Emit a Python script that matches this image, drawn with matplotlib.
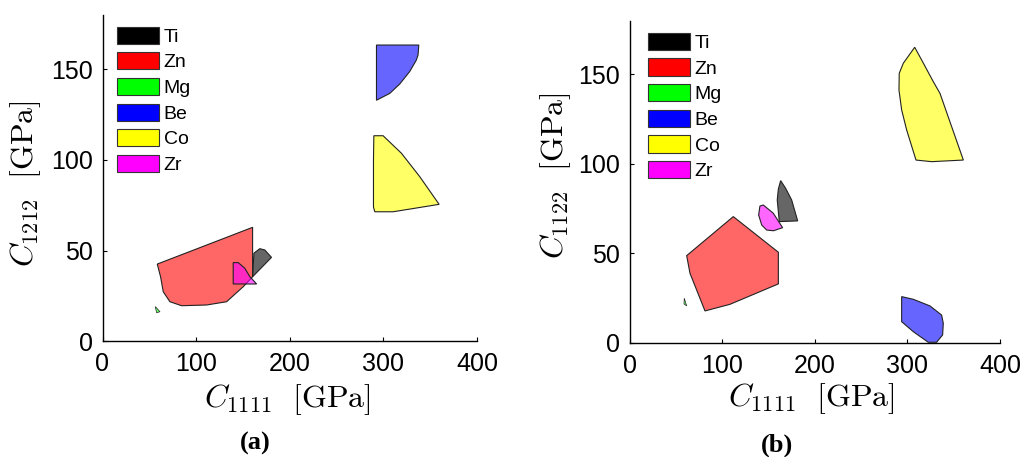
import matplotlib
matplotlib.use("Agg")
import matplotlib.pyplot as plt
from matplotlib.patches import Polygon, Patch

materials = ["Ti", "Zn", "Mg", "Be", "Co", "Zr"]
colors = {"Ti": "#000000", "Zn": "#ff0000", "Mg": "#00ff00",
          "Be": "#0000ff", "Co": "#ffff00", "Zr": "#ff00ff"}

# Panel (a): C1111 vs C1212 (GPa)
a_Ti = [(160.3, 35.5), (161.7, 48.5), (168.0, 51.0), (173.3, 50.3), (180.5, 46.2)]
a_Zn = [(58.5, 42.5), (160.3, 62.8), (160.3, 35.5), (150.3, 30.0), (132.5, 21.7),
        (111.2, 19.9), (84.5, 19.5), (72.0, 21.7), (64.9, 27.2), (62.0, 35.5)]
a_Mg = [(56.4, 19.0), (61.4, 16.2), (57.8, 15.6)]
a_Be = [(292.6, 163.5), (337.8, 163.5), (337.0, 158.0), (335.0, 155.0), (328.0, 148.8),
        (317.5, 142.0), (306.8, 136.8), (292.6, 133.0)]
a_Co = [(289.8, 113.4), (299.7, 113.4), (319.3, 103.7), (338.8, 90.8), (359.5, 75.5),
        (310.4, 71.4), (290.8, 71.4), (289.4, 74.0), (289.4, 100.0)]
a_Zr = [(139.6, 43.3), (145.0, 43.3), (152.0, 40.2), (157.4, 35.5), (164.6, 31.5),
        (139.6, 31.5)]

# Panel (b): C1111 vs C1122 (GPa)
b_Ti = [(162.9, 90.7), (168.3, 86.4), (174.8, 79.9), (181.3, 68.2), (161.4, 67.8),
        (159.2, 79.9), (160.4, 86.0)]
b_Zn = [(61.3, 48.8), (111.7, 70.6), (160.4, 50.7), (160.4, 33.0), (108.1, 21.6),
        (81.1, 17.9), (64.9, 38.9)]
b_Mg = [(58.7, 25.0), (61.3, 20.7), (58.4, 21.8)]
b_Be = [(293.7, 25.9), (306.3, 24.4), (324.3, 20.7), (336.9, 15.6), (338.7, 11.0),
        (338.0, 4.5), (331.5, 0.4), (322.5, 0.4), (306.3, 6.3), (293.7, 11.9)]
b_Co = [(307.8, 165.2), (315.3, 158.1), (327.9, 146.0), (335.1, 139.5), (360.4, 102.2),
        (326.1, 101.3), (309.2, 102.2), (299.1, 119.0), (293.7, 130.2), (290.8, 141.3),
        (291.1, 150.7), (295.5, 156.3)]
b_Zr = [(140.5, 76.5), (144.1, 77.1), (154.9, 72.5), (165.0, 64.4), (155.0, 62.7),
        (147.8, 63.1), (142.4, 65.9), (139.1, 71.5)]

panel_a = {"Ti": a_Ti, "Zn": a_Zn, "Mg": a_Mg, "Be": a_Be, "Co": a_Co, "Zr": a_Zr}
panel_b = {"Ti": b_Ti, "Zn": b_Zn, "Mg": b_Mg, "Be": b_Be, "Co": b_Co, "Zr": b_Zr}

xticks = [0, 100, 200, 300, 400]
yticks = [0, 50, 100, 150]

plt.rcParams["mathtext.fontset"] = "cm"

fig = plt.figure(figsize=(10.25, 4.57), dpi=100)
axA = fig.add_axes([0.1, 0.2538, 0.3654, 0.713])
axB = fig.add_axes([0.6146, 0.2495, 0.361, 0.705])

def draw(ax, polys, ylab, leg_anchor, ylab_coords, xlab_coords):
    for m in materials:
        lw = 0.5 if m == "Mg" else 0.8
        ax.add_patch(Polygon(polys[m], closed=True, facecolor=colors[m], alpha=0.6,
                             edgecolor="none"))
        ax.add_patch(Polygon(polys[m], closed=True, facecolor="none",
                             edgecolor="#222222", linewidth=lw))
    ax.set_xlim(0, 400)
    ax.set_ylim(0, 180)
    ax.set_xticks(xticks)
    ax.set_yticks(yticks)
    for s in ["top", "right"]:
        ax.spines[s].set_visible(False)
    for s in ["left", "bottom"]:
        ax.spines[s].set_linewidth(1.0)
    ax.tick_params(direction="in", length=3, width=0.8, labelsize=18)
    ax.tick_params(axis="y", pad=7)
    ax.tick_params(axis="x", pad=8)
    for lab in ax.get_xticklabels() + ax.get_yticklabels():
        lab.set_family("Liberation Sans")
    ax.set_xlabel(r"$C_{1111}\ \ \mathrm{[GPa]}$", fontsize=23)
    ax.set_ylabel(ylab, fontsize=23)
    ax.yaxis.set_label_coords(*ylab_coords)
    ax.xaxis.set_label_coords(*xlab_coords)
    handles = [Patch(facecolor=colors[m], edgecolor="#333333", linewidth=0.8, label=m)
               for m in materials]
    ax.legend(handles=handles, loc="upper left", bbox_to_anchor=leg_anchor,
              frameon=False, borderpad=0, borderaxespad=0,
              prop={"family": "Liberation Sans", "size": 14},
              handlelength=2.15, handleheight=0.98, labelspacing=0.33,
              handletextpad=0.25)

draw(axA, panel_a, r"$C_{1212}\ \ \mathrm{[GPa]}$", (0.0387, 0.965),
     (-0.159, 0.482), (0.495, -0.127))
draw(axB, panel_b, r"$C_{1122}\ \ \mathrm{[GPa]}$", (0.0486, 0.963),
     (-0.154, 0.52), (0.49, -0.118))

fig.text(255 / 1025, 1 - 443 / 457, "(a)", ha="center", va="center",
         family="Liberation Serif", fontweight="bold", fontsize=19)
fig.text(777 / 1025, 1 - 445 / 457, "(b)", ha="center", va="center",
         family="Liberation Serif", fontweight="bold", fontsize=19)

fig.savefig("out.png", dpi=100)
